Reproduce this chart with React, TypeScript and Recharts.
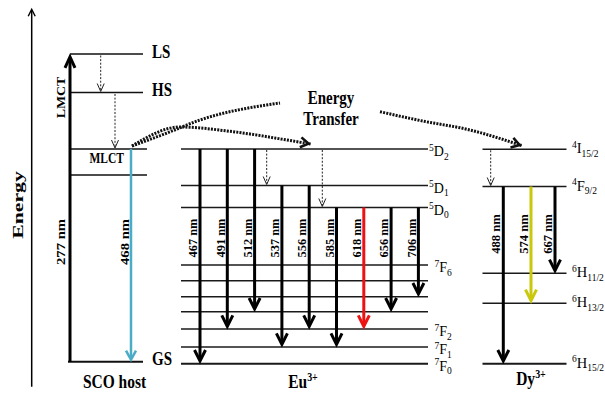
import React from 'react';
import { ComposedChart, XAxis, YAxis, Line, ReferenceLine, ReferenceDot } from 'recharts';

const SERIF = '"Liberation Serif","Times New Roman",Times,serif';

// ---------------- data (energies in arbitrary units, higher = more energetic) ----------------
// SCO host
const scoLevelNames = ['LS', 'HS', 'MLCT', 'MLCT2', 'GS'];
const scoLevelEnergies = [344, 305.5, 249, 223, 36.3];
const scoLevelLabels = ['LS', 'HS', '', '', 'GS'];
const scoAbsorption = { label: '277 nm', from: 'GS', to: 'LS', text: 'LMCT' };
const scoEmission = { label: '468 nm', from: 'MLCT', to: 'GS' };
const scoRelaxFrom = ['LS', 'HS'];
const scoRelaxTo = ['HS', 'MLCT'];

// Eu3+
const euLevelNames = ['5D2', '5D1', '5D0', '7F6', '7F5', '7F4', '7F3', '7F2', '7F1', '7F0'];
const euLevelEnergies = [249, 212.5, 190.5, 133, 117.3, 101.3, 86.3, 69, 51, 34.3];
const euLevelSup = ['5', '5', '5', '7', '', '', '', '7', '7', '7'];
const euLevelTerm = ['D', 'D', 'D', 'F', '', '', '', 'F', 'F', 'F'];
const euLevelSub = ['2', '1', '0', '6', '', '', '', '2', '1', '0'];
const euWavelengths = [467, 491, 512, 537, 556, 585, 618, 656, 706];
const euFrom = ['5D2', '5D2', '5D2', '5D1', '5D1', '5D0', '5D0', '5D0', '5D0'];
const euTo = ['7F0', '7F2', '7F3', '7F1', '7F2', '7F1', '7F2', '7F3', '7F4'];
const euRelaxFrom = ['5D2', '5D2'];
const euRelaxTo = ['5D1', '5D0'];

// Dy3+
const dyLevelNames = ['4I15/2', '4F9/2', '6H11/2', '6H13/2', '6H15/2'];
const dyLevelEnergies = [248.7, 211.5, 124.7, 94.7, 34.3];
const dyLevelSup = ['4', '4', '6', '6', '6'];
const dyLevelTerm = ['I', 'F', 'H', 'H', 'H'];
const dyLevelSub = ['15/2', '9/2', '11/2', '13/2', '15/2'];
const dyWavelengths = [488, 574, 667];
const dyFrom = ['4F9/2', '4F9/2', '4F9/2'];
const dyTo = ['6H15/2', '6H13/2', '6H11/2'];
const dyRelaxFrom = ['4I15/2'];
const dyRelaxTo = ['4F9/2'];

// Energy-transfer paths (position, energy)
const transferToEu = [
  { x: 132, y: 252 },
  { x: 180, y: 271 },
  { x: 233, y: 266.3 },
  { x: 287, y: 258 },
  { x: 310.5, y: 254 },
];
const transferUp = [
  { x: 132, y: 252 },
  { x: 167, y: 265 },
  { x: 200, y: 278 },
  { x: 280, y: 295 },
];
const transferToDy = [
  { x: 380, y: 286.3 },
  { x: 420, y: 277.5 },
  { x: 470, y: 268 },
  { x: 521.5, y: 252.5 },
];

// ---------------- layout / style ----------------
const W = 605;
const H = 398;
const LAY = {
  axisX: 31.7,
  axisBottom: 11.3,
  axisTop: 390,
  sco: { x0: 70, xEnd: [143, 143, 147, 147, 143], gsStart: 68, labelX: 152, absX: 70, emX: 131, relaxX: [100.7, 115] },
  eu: { x0: 181, x1: 428, arrowX0: 200, step: 27.3, relaxX: [266.7, 322.3], labelXD: 429, labelXF: 434.5, nmE: 160 },
  dy: { x0: 482.5, x1: 566.5, arrowX: [503.3, 531, 555], relaxX: [490.7], labelX: 572, nmE: 164 },
};
const EU_COLORS = ['#000', '#000', '#000', '#000', '#000', '#000', '#ee1111', '#000', '#000'];
const DY_COLORS = ['#000', '#c9c80c', '#000'];
const BLUE = '#4bacc6';

const lookup = (names: string[], vals: number[]) => (n: string) => vals[names.indexOf(n)];
const scoE = lookup(scoLevelNames, scoLevelEnergies);
const euE = lookup(euLevelNames, euLevelEnergies);
const dyE = lookup(dyLevelNames, dyLevelEnergies);

// ---------------- shapes ----------------
type ArrowOpt = { color: string; sw: number; hw: number; hl: number; dash?: string; headSw?: number };
const arrowShape = (o: ArrowOpt) => (p: any) => {
  const { x1, y1, x2, y2 } = p;
  const len = Math.hypot(x2 - x1, y2 - y1) || 1;
  const ux = (x2 - x1) / len;
  const uy = (y2 - y1) / len;
  const px = -uy;
  const py = ux;
  const hsw = o.headSw ?? o.sw;
  const half = Math.atan2(o.hw, o.hl);
  const ext = hsw / 2 / Math.sin(half);
  const tx = x2 - ux * ext * 0.8;
  const ty = y2 - uy * ext * 0.8;
  const bx = tx - ux * o.hl;
  const by = ty - uy * o.hl;
  const pts = `${bx + px * o.hw},${by + py * o.hw} ${tx},${ty} ${bx - px * o.hw},${by - py * o.hw}`;
  return (
    <g>
      <line x1={x1} y1={y1} x2={tx - ux * 1} y2={ty - uy * 1} stroke={o.color} strokeWidth={o.sw} strokeDasharray={o.dash} />
      <polyline points={pts} fill="none" stroke={o.color} strokeWidth={hsw} strokeLinejoin="miter" strokeMiterlimit={10} />
    </g>
  );
};

const levelShape = (color: string, sw: number) => (p: any) => (
  <line x1={p.x1} y1={p.y1} x2={p.x2} y2={p.y2} stroke={color} strokeWidth={sw} />
);

type Part = { t: string; size?: number; off?: number };
type TextOpt = { size: number; bold?: boolean; anchor?: 'start' | 'middle' | 'end'; rot?: number; sx?: number; sy?: number; fill?: string };
const textShape = (parts: Part[], o: TextOpt) => (p: any) => {
  const { cx, cy } = p;
  let prev = 0;
  return (
    <text
      transform={`translate(${cx},${cy}) rotate(${o.rot ?? 0}) scale(${o.sx ?? 1},${o.sy ?? 1})`}
      x={0}
      y={0}
      textAnchor={o.anchor ?? 'start'}
      fontFamily={SERIF}
      fontSize={o.size}
      fontWeight={o.bold ? 700 : 400}
      fill={o.fill ?? '#000'}
    >
      {parts.map((pt, i) => {
        const off = pt.off ?? 0;
        const dy = off - prev;
        prev = off;
        return (
          <tspan key={i} fontSize={pt.size ?? o.size} dy={dy}>
            {pt.t}
          </tspan>
        );
      })}
    </text>
  );
};

const curveHead = (data: { x: number; y: number }[]) => (p: any) => {
  const { cx, cy, index } = p;
  if (index !== data.length - 1 || cx == null || cy == null) return <g key={`h-${index}`} />;
  const a = data[data.length - 2];
  const b = data[data.length - 1];
  const ang = Math.atan2(-(b.y - a.y), b.x - a.x);
  const ux = Math.cos(ang);
  const uy = Math.sin(ang);
  const px = -uy;
  const py = ux;
  const hl = 8;
  const hw = 5;
  const tx = cx - ux * 2;
  const ty = cy - uy * 2;
  const bx = tx - ux * hl;
  const by = ty - uy * hl;
  return (
    <polyline
      key={`h-${index}`}
      points={`${bx + px * hw},${by + py * hw} ${tx},${ty} ${bx - px * hw},${by - py * hw}`}
      fill="none"
      stroke="#111"
      strokeWidth={2.6}
      strokeLinejoin="miter"
    />
  );
};

const seg = (key: string, xa: number, ya: number, xb: number, yb: number, shape: any) => (
  <ReferenceLine key={key} segment={[{ x: xa, y: ya }, { x: xb, y: yb }]} ifOverflow="visible" shape={shape} />
);
const txt = (key: string, x: number, y: number, shape: any) => (
  <ReferenceDot key={key} x={x} y={y} r={0} ifOverflow="visible" shape={shape} />
);

const levelLabelParts = (sup: string, term: string, sub: string): Part[] => [
  { t: sup, size: 9.5, off: -5.5 },
  { t: term, off: 0 },
  { t: sub, size: 9.5, off: 3.5 },
];

export default function App() {
  const els: React.ReactNode[] = [];
  const thin: ArrowOpt = { color: '#222', sw: 1, hw: 3.5, hl: 8, dash: '2 1.6', headSw: 1 };
  const big: ArrowOpt = { color: '#000', sw: 3, hw: 5.5, hl: 11 };

  // Energy axis
  els.push(seg('axis', LAY.axisX, LAY.axisBottom, LAY.axisX, LAY.axisTop, arrowShape({ color: '#000', sw: 1.5, hw: 3.5, hl: 7, headSw: 1.4 })));
  els.push(txt('energy', 22.5, 193, textShape([{ t: 'Energy' }], { size: 14, bold: true, anchor: 'middle', rot: -90, sx: 1.55 })));

  // SCO host levels
  scoLevelNames.forEach((n, i) => {
    const x0 = n === 'GS' ? LAY.sco.gsStart : LAY.sco.x0;
    els.push(seg(`sco-${n}`, x0, scoLevelEnergies[i], LAY.sco.xEnd[i], scoLevelEnergies[i], levelShape('#111', n === 'GS' ? 2 : 1.6)));
    if (scoLevelLabels[i]) {
      els.push(txt(`scol-${n}`, LAY.sco.labelX, scoLevelEnergies[i] - 3.5, textShape([{ t: scoLevelLabels[i] }], { size: 15, bold: true, sy: 1.2 })));
    }
  });
  els.push(txt('mlct', 106.7, scoE('MLCT') - 13.7, textShape([{ t: 'MLCT' }], { size: 11.5, bold: true, anchor: 'middle', sy: 1.25 })));
  // LMCT absorption
  els.push(seg('sco-abs', LAY.sco.absX, scoE(scoAbsorption.from), LAY.sco.absX, scoE(scoAbsorption.to), arrowShape({ color: '#000', sw: 3, hw: 5, hl: 11 })));
  els.push(txt('lmct', LAY.sco.absX - 5, 300.5, textShape([{ t: scoAbsorption.text }], { size: 12, bold: true, anchor: 'middle', rot: -90, sx: 1.16 })));
  els.push(txt('abs-nm', LAY.sco.absX - 5, 156, textShape([{ t: scoAbsorption.label }], { size: 12, bold: true, anchor: 'middle', rot: -90, sx: 1.22 })));
  // emission
  els.push(seg('sco-em', LAY.sco.emX, scoE(scoEmission.from), LAY.sco.emX, scoE(scoEmission.to), arrowShape({ color: BLUE, sw: 2.5, hw: 5, hl: 9 })));
  els.push(txt('em-nm', LAY.sco.emX - 1.8, 156, textShape([{ t: scoEmission.label }], { size: 12, bold: true, anchor: 'middle', rot: -90, sx: 1.22 })));
  scoRelaxFrom.forEach((f, i) => {
    els.push(seg(`sco-rx-${i}`, LAY.sco.relaxX[i], scoE(f) - 1.5, LAY.sco.relaxX[i], scoE(scoRelaxTo[i]), arrowShape(thin)));
  });
  els.push(txt('sco-title', 114.5, 10, textShape([{ t: 'SCO host' }], { size: 15.5, bold: true, anchor: 'middle', sy: 1.25 })));

  // Eu levels
  euLevelNames.forEach((n, i) => {
    const e = euLevelEnergies[i];
    els.push(seg(`eu-${n}`, LAY.eu.x0, e, LAY.eu.x1, e, levelShape('#1a1a1a', i === euLevelNames.length - 1 ? 2 : 1.6)));
    if (euLevelTerm[i]) {
      const lx = euLevelTerm[i] === 'D' ? LAY.eu.labelXD : LAY.eu.labelXF;
      els.push(txt(`eul-${n}`, lx, e - 7, textShape(levelLabelParts(euLevelSup[i], euLevelTerm[i], euLevelSub[i]), { size: 14 })));
    }
  });
  euWavelengths.forEach((w, i) => {
    const x = LAY.eu.arrowX0 + i * LAY.eu.step;
    els.push(seg(`eu-a-${w}`, x, euE(euFrom[i]), x, euE(euTo[i]), arrowShape({ ...big, color: EU_COLORS[i] })));
    els.push(txt(`eu-t-${w}`, x - 2.8, LAY.eu.nmE, textShape([{ t: `${w} nm` }], { size: 12, bold: true, anchor: 'middle', rot: -90, sx: 1.03 })));
  });
  euRelaxFrom.forEach((f, i) => {
    els.push(seg(`eu-rx-${i}`, LAY.eu.relaxX[i], euE(f) - 1, LAY.eu.relaxX[i], euE(euRelaxTo[i]), arrowShape(thin)));
  });
  els.push(
    txt('eu-title', 303, 10, textShape([{ t: 'Eu' }, { t: '3+', size: 10, off: -6 }], { size: 15.5, bold: true, anchor: 'middle', sy: 1.25 }))
  );

  // Dy levels
  dyLevelNames.forEach((n, i) => {
    const e = dyLevelEnergies[i];
    els.push(seg(`dy-${n}`, LAY.dy.x0, e, LAY.dy.x1, e, levelShape('#1a1a1a', i === dyLevelNames.length - 1 ? 2 : 1.6)));
    els.push(txt(`dyl-${n}`, LAY.dy.labelX, e - 4, textShape(levelLabelParts(dyLevelSup[i], dyLevelTerm[i], dyLevelSub[i]), { size: 14.5 })));
  });
  dyWavelengths.forEach((w, i) => {
    const x = LAY.dy.arrowX[i];
    els.push(seg(`dy-a-${w}`, x, dyE(dyFrom[i]), x, dyE(dyTo[i]), arrowShape({ ...big, color: DY_COLORS[i] })));
    els.push(txt(`dy-t-${w}`, x - 3, LAY.dy.nmE, textShape([{ t: `${w} nm` }], { size: 12, bold: true, anchor: 'middle', rot: -90, sx: 1.05 })));
  });
  dyRelaxFrom.forEach((f, i) => {
    els.push(seg(`dy-rx-${i}`, LAY.dy.relaxX[i], dyE(f) - 1, LAY.dy.relaxX[i], dyE(dyRelaxTo[i]), arrowShape(thin)));
  });
  els.push(
    txt('dy-title', 531, 13, textShape([{ t: 'Dy' }, { t: '3+', size: 10, off: -6 }], { size: 15.5, bold: true, anchor: 'middle', sy: 1.25 }))
  );

  // Energy transfer caption
  els.push(txt('et1', 331, 294.5, textShape([{ t: 'Energy' }], { size: 15, bold: true, anchor: 'middle', sy: 1.2 })));
  els.push(txt('et2', 331, 273, textShape([{ t: 'Transfer' }], { size: 15, bold: true, anchor: 'middle', sy: 1.2 })));

  return (
    <div style={{ position: 'absolute', left: 0, top: 0, width: W, height: H, background: '#fff' }}>
      <ComposedChart width={W} height={H} margin={{ top: 0, right: 0, bottom: 0, left: 0 }}>
        <XAxis type="number" dataKey="x" domain={[0, W]} hide allowDataOverflow />
        <YAxis type="number" domain={[0, H]} hide allowDataOverflow />
        <Line data={transferUp} dataKey="y" type="monotone" stroke="#111" strokeWidth={3} strokeDasharray="2 1.2" dot={false} activeDot={false} isAnimationActive={false} legendType="none" />
        <Line data={transferToEu} dataKey="y" type="monotone" stroke="#111" strokeWidth={3} strokeDasharray="2 1.2" dot={curveHead(transferToEu)} activeDot={false} isAnimationActive={false} legendType="none" />
        <Line data={transferToDy} dataKey="y" type="monotone" stroke="#111" strokeWidth={3} strokeDasharray="2 1.2" dot={curveHead(transferToDy)} activeDot={false} isAnimationActive={false} legendType="none" />
        {els}
      </ComposedChart>
    </div>
  );
}
